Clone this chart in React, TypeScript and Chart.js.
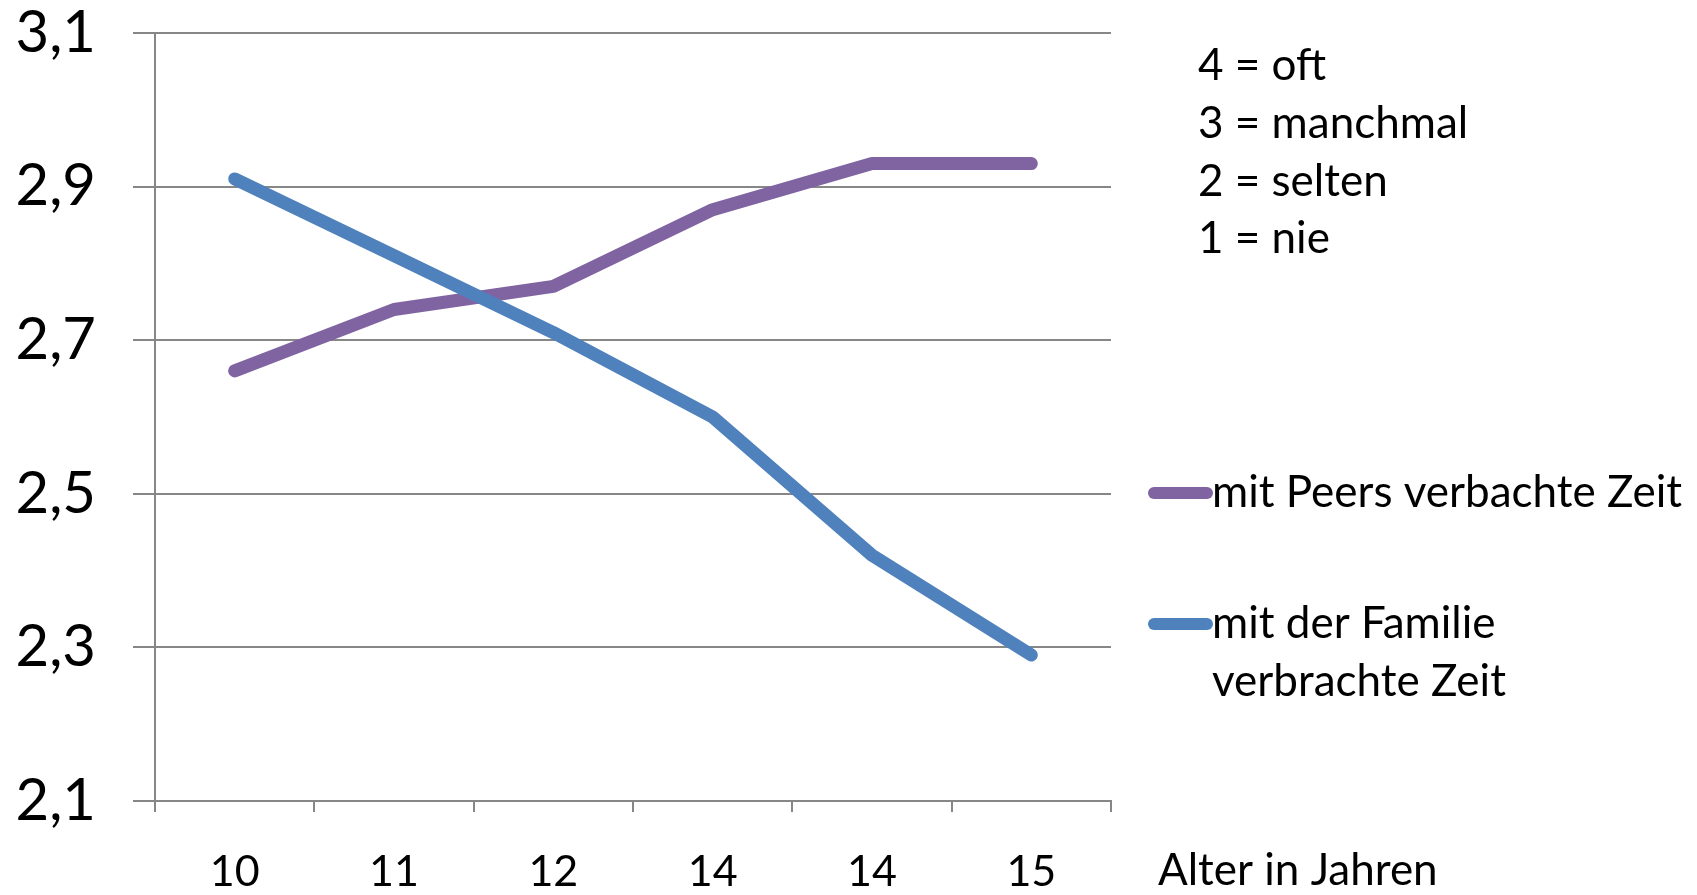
import React, { useEffect, useRef } from "react";
import { Chart, registerables } from "chart.js";

Chart.register(...registerables);

// Age groups on the x axis (the survey labels two groups "14")
const ageLabels: string[] = ["10", "11", "12", "14", "14", "15"];

// Mean frequency (1 = nie … 4 = oft)
const peersValues: number[] = [2.66, 2.74, 2.77, 2.87, 2.93, 2.93];
const familyValues: number[] = [2.91, 2.81, 2.71, 2.6, 2.42, 2.29];

const peersLabel = "mit Peers verbachte Zeit";
const familyLabel = "mit der Familie verbrachte Zeit";
const familyLabelLines: string[] = ["mit der Familie", "verbrachte Zeit"];

const scaleKey: string[] = ["4 = oft", "3 = manchmal", "2 = selten", "1 = nie"];
const xAxisTitle = "Alter in Jahren";

const yMin = 2.1;
const yMax = 3.1;
const yStep = 0.2;

const PURPLE = "#8064A2";
const BLUE = "#4F81BD";
const GRID = "#878787";
const FONT = "Lato, 'Open Sans', sans-serif";
const LINE_WIDTH = 13;

// Legend, value key and axis caption drawn to the right of the plot
const sideTextPlugin = {
  id: "sideText",
  afterDraw(chart: Chart) {
    const { ctx, chartArea } = chart;
    const right = chartArea.right;
    ctx.save();
    ctx.fillStyle = "#000";
    ctx.font = `44px ${FONT}`;
    ctx.textBaseline = "middle";
    ctx.textAlign = "left";

    // value key
    scaleKey.forEach((t, i) => {
      ctx.fillText(t, right + 87, 66 + i * 57.7);
    });

    // legend entries
    const entries = [
      { color: PURPLE, lines: [peersLabel], y: 493 },
      { color: BLUE, lines: familyLabelLines, y: 624 },
    ];
    entries.forEach((e) => {
      ctx.strokeStyle = e.color;
      ctx.lineWidth = 12;
      ctx.lineCap = "round";
      ctx.beginPath();
      ctx.moveTo(right + 43, e.y);
      ctx.lineTo(right + 96, e.y);
      ctx.stroke();
      e.lines.forEach((l, i) => {
        ctx.fillText(l, right + 101, e.y + i * 58);
      });
    });

    // x axis caption
    ctx.fillText(xAxisTitle, right + 47, 871);
    ctx.restore();
  },
};

export default function App() {
  const canvasRef = useRef<HTMLCanvasElement | null>(null);

  useEffect(() => {
    document.body.style.margin = "0";
    const canvas = canvasRef.current;
    if (!canvas) return;
    const chart = new Chart(canvas, {
      type: "line",
      data: {
        labels: ageLabels,
        datasets: [
          {
            label: peersLabel,
            data: peersValues,
            borderColor: PURPLE,
            backgroundColor: PURPLE,
            borderWidth: LINE_WIDTH,
            pointRadius: 0,
            borderCapStyle: "round",
            borderJoinStyle: "round",
            tension: 0,
            order: 1,
          },
          {
            label: familyLabel,
            data: familyValues,
            borderColor: BLUE,
            backgroundColor: BLUE,
            borderWidth: LINE_WIDTH,
            pointRadius: 0,
            borderCapStyle: "round",
            borderJoinStyle: "round",
            tension: 0,
            order: 0,
          },
        ],
      },
      options: {
        animation: false,
        responsive: true,
        maintainAspectRatio: false,
        layout: { padding: { left: 0, right: 586, top: 33, bottom: 0 } },
        plugins: {
          legend: { display: false },
          tooltip: { enabled: false },
          title: { display: false },
        },
        scales: {
          x: {
            type: "category",
            offset: true,
            grid: {
              offset: true,
              drawOnChartArea: false,
              drawTicks: true,
              tickLength: 11,
              color: GRID,
              lineWidth: 2,
            },
            border: { display: true, color: GRID, width: 2 },
            ticks: {
              color: "#000",
              font: { family: FONT, size: 43 },
              padding: 34,
              maxRotation: 0,
              autoSkip: false,
            },
            afterFit(scale: any) {
              scale.height = 94;
              scale.paddingLeft = 0;
              scale.paddingRight = 0;
            },
          },
          y: {
            type: "linear",
            min: yMin,
            max: yMax,
            grid: {
              color: GRID,
              lineWidth: 2,
              drawTicks: true,
              tickLength: 22,
            },
            border: { display: true, color: GRID, width: 2 },
            ticks: {
              stepSize: yStep,
              color: "#000",
              font: { family: FONT, size: 58 },
              padding: 37,
              callback: (v: any) => Number(v).toFixed(1).replace(".", ","),
            },
            afterFit(scale: any) {
              scale.width = 155;
              scale.paddingTop = 0;
              scale.paddingBottom = 0;
            },
          },
        },
      },
      plugins: [sideTextPlugin],
    });
    return () => chart.destroy();
  }, []);

  return (
    <div style={{ position: "fixed", left: 0, top: 0, width: "1697px", height: "895px" }}>
      <canvas ref={canvasRef} />
    </div>
  );
}
